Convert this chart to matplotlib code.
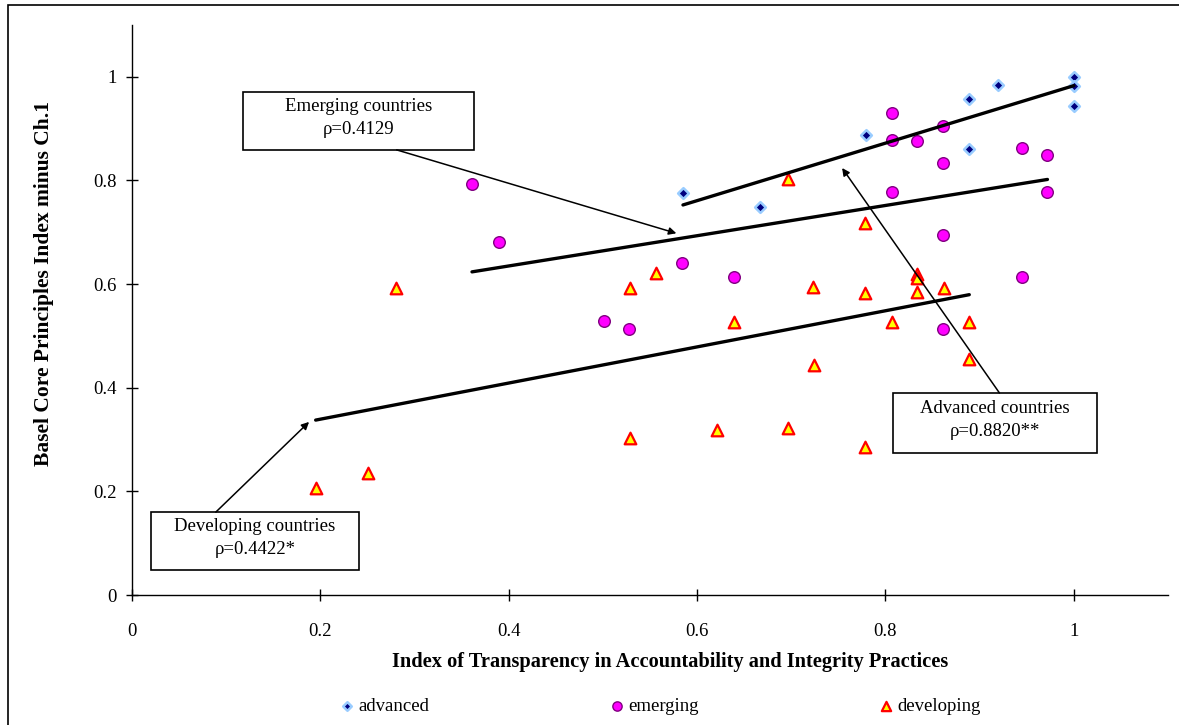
import numpy as np
import matplotlib
matplotlib.use("Agg")
import matplotlib.pyplot as plt
from matplotlib.patches import Rectangle
from matplotlib.ticker import FuncFormatter

plt.rcParams['font.family'] = ['Liberation Serif', 'DejaVu Serif']

# data
adv_x = [0.585, 0.667, 0.779, 0.889, 0.889, 0.919, 1.0, 1.0, 1.0]
adv_y = [0.776, 0.748, 0.888, 0.957, 0.860, 0.985, 1.0, 0.983, 0.944]

emg_x = [0.361, 0.390, 0.501, 0.528, 0.584, 0.639, 0.807, 0.807, 0.807,
         0.834, 0.861, 0.861, 0.861, 0.861, 0.945, 0.945, 0.972, 0.972]
emg_y = [0.793, 0.681, 0.529, 0.513, 0.641, 0.613, 0.930, 0.878, 0.777,
         0.877, 0.906, 0.833, 0.694, 0.513, 0.862, 0.613, 0.849, 0.777]

dev_x = [0.195, 0.251, 0.280, 0.529, 0.556, 0.529, 0.621, 0.639, 0.697,
         0.696, 0.723, 0.724, 0.778, 0.778, 0.778, 0.807, 0.833, 0.834,
         0.834, 0.862, 0.889, 0.889]
dev_y = [0.206, 0.235, 0.592, 0.592, 0.622, 0.303, 0.319, 0.527, 0.803,
         0.322, 0.595, 0.443, 0.718, 0.582, 0.286, 0.527, 0.620, 0.612,
         0.585, 0.592, 0.527, 0.456]

groups = ['advanced', 'emerging', 'developing']
box_texts = ['Advanced countries\nρ=0.8820**',
             'Emerging countries\nρ=0.4129',
             'Developing countries\nρ=0.4422*']

fig = plt.figure(figsize=(11.79, 7.25), dpi=100)
W, H = 1179, 725
ax = fig.add_axes([132 / W, 130 / H, 1036 / W, 570 / H])

fs = 13.5

# scatter points
ax.scatter(adv_x, adv_y, marker='D', s=30, facecolor='#000080',
           edgecolor='#99ccff', linewidth=1.8, label=groups[0], zorder=3)
ax.scatter(emg_x, emg_y, marker='o', s=70, facecolor='#ff00ff',
           edgecolor='#800080', linewidth=1, label=groups[1], zorder=3)
ax.scatter(dev_x, dev_y, marker='^', s=70, facecolor='#ffff00',
           edgecolor='#ff0000', linewidth=1.6, label=groups[2], zorder=3)

# linear trend lines for each group
for xs, ys in [(adv_x, adv_y), (emg_x, emg_y), (dev_x, dev_y)]:
    xs = np.array(xs)
    k, b = np.polyfit(xs, np.array(ys), 1)
    xx = np.array([xs.min(), xs.max()])
    ax.plot(xx, k * xx + b, color='black', lw=2.4, zorder=4,
            solid_capstyle='round')

# text boxes (x0, y0, x1, y1 in data units) and arrows
boxes = [(0.808, 0.275, 1.025, 0.390),
         (0.118, 0.859, 0.363, 0.971),
         (0.020, 0.048, 0.241, 0.160)]
arrows = [((0.921, 0.390), (0.754, 0.824)),
          ((0.281, 0.859), (0.578, 0.698)),
          ((0.089, 0.160), (0.188, 0.334))]

for (x0, y0, x1, y1), txt, (start, end) in zip(boxes, box_texts, arrows):
    ax.add_patch(Rectangle((x0, y0), x1 - x0, y1 - y0, facecolor='white',
                           edgecolor='black', lw=1.2, zorder=5))
    ax.text((x0 + x1) / 2, (y0 + y1) / 2 + 0.006, txt, ha='center',
            va='center', fontsize=fs, linespacing=1.45, zorder=6)
    ax.annotate('', xy=end, xytext=start, zorder=5,
                arrowprops=dict(arrowstyle='-|>', color='black', lw=1.1,
                                mutation_scale=11, shrinkA=0, shrinkB=0))

ax.set_xlim(0, 1.1)
ax.set_ylim(0, 1.1)
ax.set_xticks([0, 0.2, 0.4, 0.6, 0.8, 1.0])
ax.set_yticks([0, 0.2, 0.4, 0.6, 0.8, 1.0])
fmt = FuncFormatter(lambda v, p: '%g' % v)
ax.xaxis.set_major_formatter(fmt)
ax.yaxis.set_major_formatter(fmt)
ax.tick_params(direction='inout', length=8, width=1, labelsize=fs)
ax.tick_params(axis='x', pad=16)
ax.tick_params(axis='y', pad=7)

for s in ['top', 'right']:
    ax.spines[s].set_visible(False)
for s in ['left', 'bottom']:
    ax.spines[s].set_linewidth(1)

ax.set_xlabel('Index of Transparency in Accountability and Integrity Practices',
              fontsize=14.7, fontweight='bold')
ax.set_ylabel('Basel Core Principles Index minus Ch.1',
              fontsize=15.5, fontweight='bold')
ax.xaxis.set_label_coords((670 - 132) / 1036, (595 - 652) / 570)
ax.yaxis.set_label_coords((54 - 132) / 1036, (595 - 283) / 570)

fig.legend(loc='center', bbox_to_anchor=(660 / W, 19 / H), ncol=3,
           frameon=False, fontsize=fs, handlelength=0.8, handletextpad=0.2,
           columnspacing=9.6, markerscale=0.8)

# outer frame of the chart
fig.add_artist(Rectangle((8 / W, -0.05), 1.2, 0.05 + 1 - 5 / H,
                         transform=fig.transFigure, facecolor='none',
                         edgecolor='black', lw=1.2, clip_on=False))

fig.savefig('out.png', dpi=100)
